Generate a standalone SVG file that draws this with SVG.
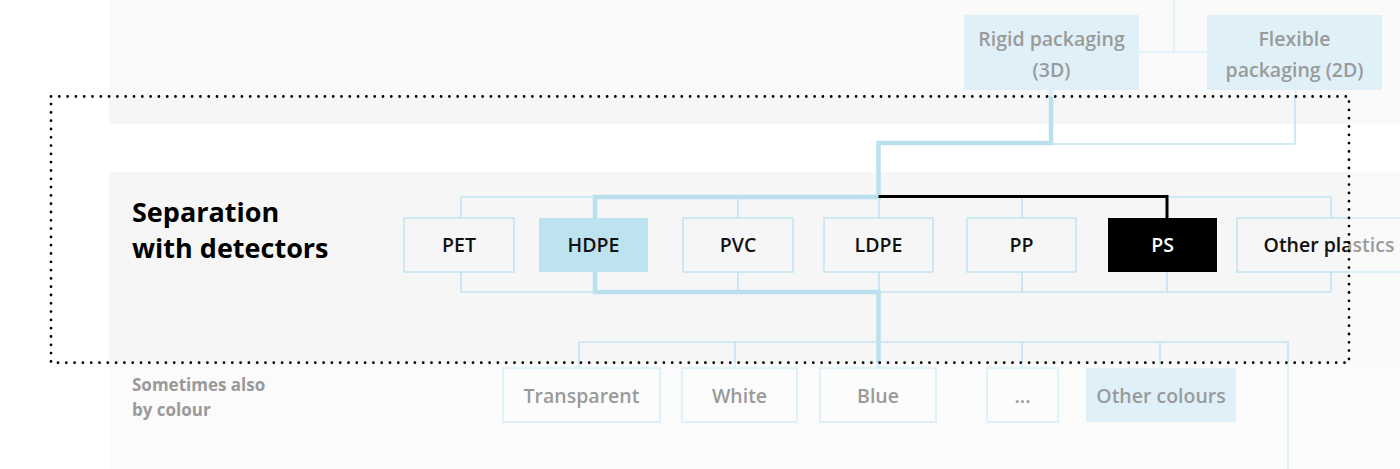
<svg xmlns="http://www.w3.org/2000/svg" width="1400" height="469" viewBox="0 0 1400 469">
<defs>
<style>
.thin{fill:none;stroke:#c2e4f1;stroke-width:1.6}
.thick{fill:none;stroke:#bae0ee;stroke-width:4.5}
.thinf{fill:none;stroke:#daeff8;stroke-width:1.6}
.thickf{fill:none;stroke:#daeff8;stroke-width:4.5}
.blk{fill:none;stroke:#000;stroke-width:3}
.box{fill:#f6f6f6;stroke:#c4e5f2;stroke-width:1.6}
.boxf{fill:#fcfcfc;stroke:#d8eef8;stroke-width:1.6}
.sel{fill:#bde3f0}
.self{fill:#dff0f8}
.lbl{font-family:"Open Sans","Liberation Sans",sans-serif;font-size:19.5px;font-weight:600;fill:#111;text-anchor:middle}
.lblf{fill:#9a9a9a}
.title{font-family:"Open Sans","Liberation Sans",sans-serif;font-size:27px;font-weight:700;fill:#000}
.sub{font-family:"Open Sans","Liberation Sans",sans-serif;font-size:17px;font-weight:700;fill:#9a9a9a}
</style>
<linearGradient id="fadeText" gradientUnits="userSpaceOnUse" x1="1237" y1="0" x2="1421" y2="0">
<stop offset="0" stop-color="#111"/>
<stop offset="0.6087" stop-color="#111"/>
<stop offset="0.6087" stop-color="#9a9a9a"/>
<stop offset="1" stop-color="#9a9a9a"/>
</linearGradient>
<linearGradient id="fadeBorder" gradientUnits="userSpaceOnUse" x1="1237" y1="0" x2="1421" y2="0">
<stop offset="0" stop-color="#c4e5f2"/>
<stop offset="0.6087" stop-color="#c4e5f2"/>
<stop offset="0.6087" stop-color="#d8eef8"/>
<stop offset="1" stop-color="#d8eef8"/>
</linearGradient>
<linearGradient id="fadeFill" gradientUnits="userSpaceOnUse" x1="1237" y1="0" x2="1421" y2="0">
<stop offset="0" stop-color="#f6f6f6"/>
<stop offset="0.6087" stop-color="#f6f6f6"/>
<stop offset="0.6087" stop-color="#fafafa"/>
<stop offset="1" stop-color="#fafafa"/>
</linearGradient>
</defs>

<g id="background">
<rect x="0" y="0" width="1400" height="469" fill="#ffffff"/>
<rect x="109" y="0" width="1291" height="96.5" fill="#fafafa"/>
<rect x="109" y="96.5" width="1240" height="27.5" fill="#f6f6f6"/>
<rect x="1349" y="96.5" width="51" height="27.5" fill="#fafafa"/>
<rect x="109" y="172" width="1240" height="190.7" fill="#f6f6f6"/>
<rect x="1349" y="172" width="51" height="190.7" fill="#fafafa"/>
<rect x="109" y="362.7" width="1291" height="106.3" fill="#fbfbfb"/>
</g>

<g id="connectors">
<path class="thinf" d="M1174,0 V52 M1139,52 H1207 M1295,90 V96.5"/>
<path class="thickf" d="M1051,90 V96.5"/>
<path class="thin" d="M1295,96.5 V144 H1053"/>
<path class="thick" d="M1051,96.5 V143 H878.5 V197 H595 V218"/>
<path class="thin" d="M461,218 V197 H595 M878.5,197 H1331 V218 M738,197 V218 M879,197 V218 M1022,197 V218"/>
<path class="blk" d="M878.5,196.5 H1167 V218"/>
<path class="thin" d="M461,272 V292 H595 M738,272 V292 M879,272 V292 M1022,272 V292 M1167,272 V292 M1331,272 V292 M878.5,292 H1331"/>
<path class="thick" d="M595,272 V292 H878.5 V362.7"/>
<path class="thin" d="M579,362.7 V342 H1288 V362.7 M735,342 V362.7 M1022,342 V362.7 M1160,342 V362.7"/>
<path class="thinf" d="M579,362.7 V368 M735,362.7 V368 M1022,362.7 V368 M1160,362.7 V368 M1288,362.7 V469"/>
<path class="thickf" d="M878.5,362.7 V368"/>
</g>

<g id="node-rigid">
<rect class="self" x="964" y="15" width="175" height="75"/>
<text class="lbl lblf" x="1051.5" y="46">Rigid packaging</text>
<text class="lbl lblf" x="1051.5" y="77">(3D)</text>
</g>
<g id="node-flexible">
<rect class="self" x="1207" y="15" width="175" height="75"/>
<text class="lbl lblf" x="1294.5" y="46">Flexible</text>
<text class="lbl lblf" x="1294.5" y="77">packaging (2D)</text>
</g>

<g id="node-pet">
<rect class="box" x="404" y="218" width="110" height="54"/>
<text class="lbl" x="459" y="252">PET</text>
</g>
<g id="node-hdpe">
<rect class="sel" x="539" y="218" width="109" height="54"/>
<text class="lbl" x="593.5" y="252">HDPE</text>
</g>
<g id="node-pvc">
<rect class="box" x="683" y="218" width="110" height="54"/>
<text class="lbl" x="738" y="252">PVC</text>
</g>
<g id="node-ldpe">
<rect class="box" x="824" y="218" width="109" height="54"/>
<text class="lbl" x="878.5" y="252">LDPE</text>
</g>
<g id="node-pp">
<rect class="box" x="967" y="218" width="109" height="54"/>
<text class="lbl" x="1021.5" y="252">PP</text>
</g>
<g id="node-ps">
<rect x="1108" y="218" width="109" height="54" fill="#000"/>
<text class="lbl" x="1162.5" y="252" style="fill:#fff">PS</text>
</g>
<g id="node-other-plastics">
<rect x="1237" y="218" width="184" height="54" fill="url(#fadeFill)" stroke="url(#fadeBorder)" stroke-width="1.6"/>
<text class="lbl" x="1329" y="252" style="fill:url(#fadeText)">Other plastics</text>
</g>

<g id="node-transparent">
<rect class="boxf" x="503" y="368" width="157" height="54"/>
<text class="lbl lblf" x="581.5" y="403">Transparent</text>
</g>
<g id="node-white">
<rect class="boxf" x="682" y="368" width="115" height="54"/>
<text class="lbl lblf" x="739.5" y="403">White</text>
</g>
<g id="node-blue">
<rect class="boxf" x="820" y="368" width="116" height="54"/>
<text class="lbl lblf" x="878" y="403">Blue</text>
</g>
<g id="node-more">
<rect class="boxf" x="987" y="368" width="71" height="54"/>
<text class="lbl lblf" x="1022.5" y="403">...</text>
</g>
<g id="node-other-colours">
<rect class="self" x="1086" y="368" width="150" height="54"/>
<text class="lbl lblf" x="1161" y="403">Other colours</text>
</g>

<g id="label-separation">
<text class="title" x="132" y="222">Separation</text>
<text class="title" x="132" y="258">with detectors</text>
</g>
<g id="label-colour">
<text class="sub" x="132" y="391">Sometimes also</text>
<text class="sub" x="132" y="416">by colour</text>
</g>

<g id="focus-frame">
<rect x="51" y="96.5" width="1298" height="266.2" fill="none" stroke="#000" stroke-width="2.8" stroke-linecap="round" stroke-dasharray="0 8.3"/>
</g>
</svg>
